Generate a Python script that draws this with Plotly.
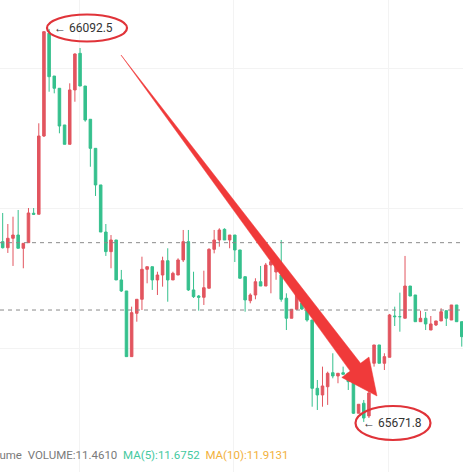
import plotly.graph_objects as go

# candle data (index, open, high, low, close)
opens = [65864.8, 65858.3, 65868.4, 65871.9, 65857.7, 65863.7, 65895.2, 65894.1, 65977.9, 66087.9,
         66042.1, 66029.0, 65989.7, 65969.0, 66027.2, 66066.4, 66031.4, 65995.8, 65964.7, 65925.5,
         65875.1, 65854.1, 65866.6, 65823.8, 65812.0, 65741.7, 65788.1, 65803.1, 65835.2, 65838.0,
         65823.8, 65829.1, 65844.4, 65823.8, 65829.1, 65845.2, 65864.8, 65813.1, 65806.6, 65805.2,
         65814.9, 65856.6, 65866.6, 65878.0, 65866.6, 65871.9, 65855.9, 65827.3, 65801.6, 65807.7,
         65821.9, 65817.3, 65839.8, 65832.3, 65829.1, 65804.2, 65782.8, 65792.4, 65799.1, 65791.6,
         65780.9, 65707.8, 65700.7, 65709.5, 65724.5, 65721.0, 65724.5, 65723.9, 65714.9, 65681.1,
         65691.8, 65678.2, 65734.6, 65754.2, 65734.6, 65741.0, 65785.2, 65784.5, 65782.8, 65817.3,
         65807.7, 65779.1, 65782.8, 65770.2, 65775.6, 65779.9, 65790.9, 65780.9, 65797.0, 65779.1]
highs = [65895.5, 65883.7, 65891.5, 65898.7, 65863.0, 65900.8, 65900.8, 65991.5, 66089.6, 66092.5,
         66042.1, 66029.0, 65989.7, 66034.3, 66066.4, 66072.1, 66031.4, 65995.8, 65964.7, 65925.5,
         65883.7, 65871.9, 65866.6, 65834.5, 65812.0, 65795.2, 65803.1, 65848.7, 65838.0, 65838.0,
         65832.6, 65848.7, 65857.7, 65832.6, 65847.0, 65877.3, 65877.3, 65832.6, 65807.7, 65833.7,
         65857.7, 65877.3, 65879.1, 65879.1, 65871.9, 65871.9, 65855.9, 65827.3, 65809.5, 65825.6,
         65838.8, 65842.0, 65843.4, 65843.0, 65866.6, 65809.5, 65792.4, 65813.1, 65802.4, 65793.8,
         65780.9, 65716.7, 65731.0, 65725.6, 65745.3, 65723.9, 65731.0, 65723.9, 65714.9, 65690.7,
         65695.3, 65704.9, 65754.2, 65754.2, 65745.3, 65787.4, 65795.2, 65810.2, 65849.5, 65817.3,
         65807.7, 65790.9, 65789.5, 65785.2, 65779.9, 65793.5, 65790.9, 65797.0, 65797.0, 65779.1]
lows = [65857.5, 65852.7, 65838.8, 65857.7, 65836.3, 65863.7, 65893.3, 65894.1, 65976.8, 66025.3,
        66023.6, 65980.8, 65969.0, 65969.0, 66014.6, 66031.4, 65993.2, 65945.0, 65913.7, 65875.1,
        65849.5, 65836.3, 65823.8, 65810.9, 65741.7, 65741.7, 65779.1, 65791.6, 65820.2, 65813.1,
        65807.7, 65816.6, 65800.5, 65823.8, 65829.1, 65843.0, 65812.0, 65804.5, 65790.9, 65797.0,
        65814.9, 65852.3, 65859.4, 65866.6, 65857.7, 65843.0, 65825.6, 65789.8, 65798.8, 65803.1,
        65817.3, 65817.3, 65809.5, 65824.0, 65800.5, 65770.2, 65782.8, 65791.6, 65791.6, 65779.1,
        65688.1, 65684.6, 65688.1, 65690.0, 65718.5, 65713.2, 65722.8, 65706.0, 65680.3, 65681.1,
        65671.8, 65676.0, 65731.0, 65734.6, 65727.4, 65741.0, 65774.5, 65768.4, 65782.8, 65806.6,
        65779.1, 65779.1, 65770.2, 65770.2, 65774.5, 65779.9, 65774.5, 65780.9, 65779.1, 65752.4]
closes = [65858.3, 65868.4, 65871.9, 65857.7, 65863.0, 65895.5, 65894.1, 65977.9, 66089.6, 66041.4,
          66029.0, 65988.6, 65969.0, 66027.2, 66065.7, 66031.4, 65995.0, 65964.7, 65925.5, 65875.1,
          65854.1, 65866.6, 65823.8, 65812.0, 65741.7, 65788.8, 65803.1, 65835.2, 65838.0, 65823.8,
          65829.1, 65844.4, 65823.8, 65830.9, 65845.2, 65864.8, 65813.1, 65805.9, 65805.2, 65815.5,
          65856.6, 65866.6, 65877.3, 65866.6, 65871.9, 65855.9, 65825.6, 65802.4, 65807.7, 65821.9,
          65817.3, 65839.8, 65843.4, 65838.8, 65803.1, 65782.8, 65792.4, 65809.5, 65792.7, 65780.9,
          65707.8, 65700.7, 65710.3, 65723.9, 65721.0, 65723.9, 65722.8, 65714.9, 65681.1, 65690.7,
          65676.0, 65702.8, 65754.2, 65734.6, 65741.7, 65786.3, 65784.5, 65784.5, 65817.3, 65806.6,
          65779.1, 65782.8, 65776.7, 65776.7, 65779.9, 65789.8, 65782.8, 65797.0, 65779.1, 65763.1]
idx = list(range(len(opens)))

price_lines = [65863.7, 65791.6]
high_label = "←\u00a066092.5"
low_label = "←\u00a065671.8"

W, H = 463, 472


def px(x):
    return x / W


def py(y):
    return 1 - y / H


fig = go.Figure()

fig.add_trace(
    go.Candlestick(
        x=idx, open=opens, high=highs, low=lows, close=closes,
        increasing=dict(line=dict(color='#e2555f', width=1), fillcolor='#e2555f'),
        decreasing=dict(line=dict(color='#35c08d', width=1), fillcolor='#35c08d'),
        whiskerwidth=0,
        showlegend=False,
        hoverinfo='skip',
    )
)

for p in price_lines:
    fig.add_shape(type='line', xref='paper', x0=0, x1=1, y0=p, y1=p,
                  line=dict(color='#8a8a8a', width=1, dash='4px,4px'))

# hand drawn arrow: tapered shaft plus head (pixel space -> paper)
sx, sy = 121, 55
tx, ty = 377, 396
dx, dy = tx - sx, ty - sy
ln = (dx ** 2 + dy ** 2) ** 0.5
ux, uy = dx / ln, dy / ln
nx, ny = uy, -ux
bx, by = tx - ux * 36, ty - uy * 36
shaft_w, head_w = 6.5, 17
pts = [
    (sx, sy),
    (bx + nx * shaft_w, by + ny * shaft_w),
    (bx + nx * head_w, by + ny * head_w),
    (tx, ty),
    (bx - nx * head_w, by - ny * head_w),
    (bx - nx * shaft_w, by - ny * shaft_w),
]
path = "M " + " L ".join(f"{px(a):.5f},{py(b):.5f}" for a, b in pts) + " Z"
fig.add_shape(type='path', xref='paper', yref='paper', path=path,
              fillcolor='#f03a3a', line=dict(color='#f03a3a', width=0.5))

# red circles around the extreme labels
for cx, cy, rx, ry in [(87, 28, 40, 13.5), (393, 423, 37.5, 17)]:
    fig.add_shape(type='circle', xref='paper', yref='paper',
                  x0=px(cx - rx), x1=px(cx + rx), y0=py(cy + ry), y1=py(cy - ry),
                  line=dict(color='#e03339', width=2.2))

fig.add_annotation(x=px(52), y=py(28), xref='paper', yref='paper', text=high_label,
                   showarrow=False, xanchor='left', yanchor='middle',
                   font=dict(family='Roboto', size=12, color='#333333'))
fig.add_annotation(x=px(361), y=py(423), xref='paper', yref='paper', text=low_label,
                   showarrow=False, xanchor='left', yanchor='middle',
                   font=dict(family='Roboto', size=12, color='#333333'))

sp = "\u00a0\u00a0"
legend_text = ("Volume" + sp + "VOLUME:11.4610" + sp +
               "<span style='color:#45c9a0'>MA(5):11.6752</span>" + sp +
               "<span style='color:#f2b13c'>MA(10):11.9131</span>")
fig.add_annotation(x=px(-19), y=py(455), xref='paper', yref='paper', text=legend_text,
                   showarrow=False, xanchor='left', yanchor='middle',
                   font=dict(family='Roboto', size=11.5, color='#7a7a7a'))

fig.update_layout(
    width=W, height=H,
    margin={"r": 0, "t": 0, "l": 0, "b": 0},
    paper_bgcolor='white',
    plot_bgcolor='white',
    xaxis=dict(range=[-0.52, 89.24], showticklabels=False, rangeslider=dict(visible=False),
               showgrid=True, gridcolor='#f3f3f3', tick0=14.8, dtick=30, zeroline=False),
    yaxis=dict(range=[65618.2, 66123.5], showticklabels=False,
               showgrid=True, gridcolor='#f3f3f3', tick0=50, dtick=150, zeroline=False),
)

# the page body has a default 8px margin; drop it so the figure sits at the window corner
fig.write_html("out.html", config={"displayModeBar": False},
               post_script="document.body.style.margin='0';")
